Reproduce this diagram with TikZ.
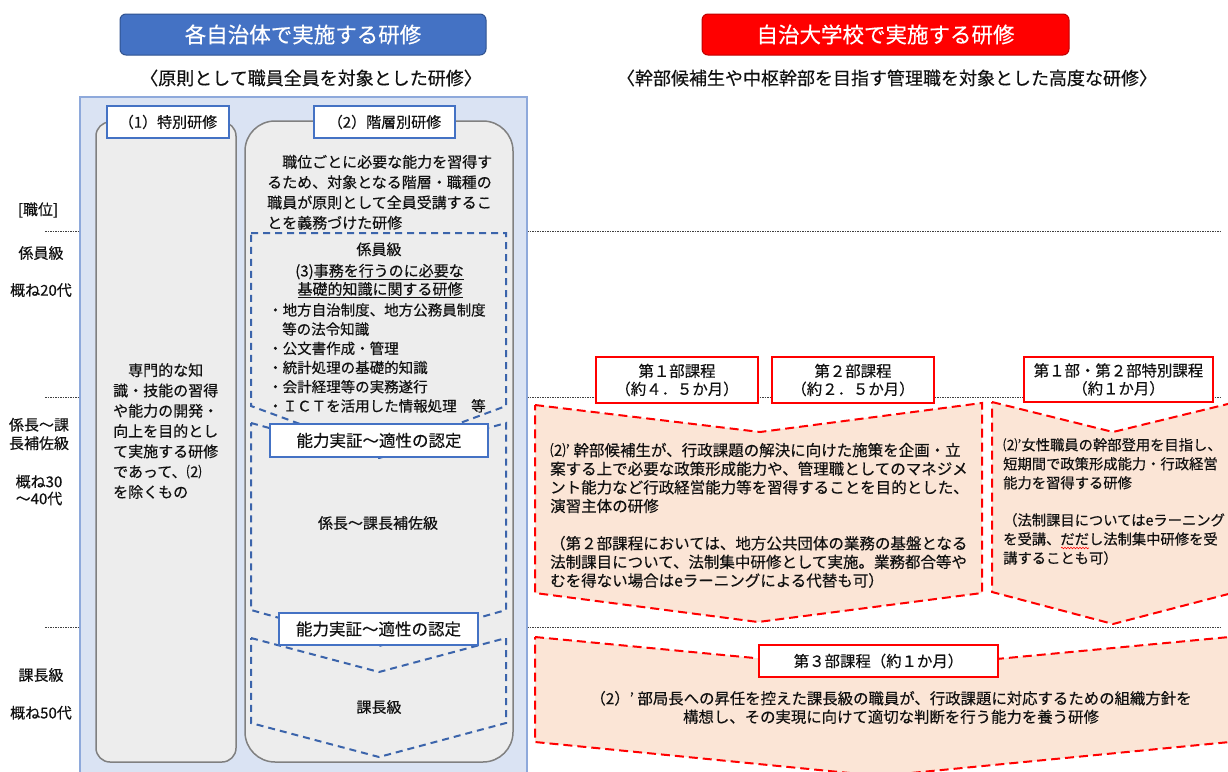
\documentclass[tikz,border=0pt]{standalone}
\usepackage{fontspec}
\setmainfont{Noto Sans CJK JP}[FakeBold=0.35]
\usetikzlibrary{decorations.pathmorphing}
\definecolor{hblue}{HTML}{4472C4}
\definecolor{hbluedk}{HTML}{2F528F}
\definecolor{hreddk}{HTML}{C00000}
\definecolor{panelfill}{HTML}{DAE3F3}
\definecolor{paneldraw}{HTML}{8EA9DB}
\definecolor{grayfill}{HTML}{EDEDED}
\definecolor{graydraw}{HTML}{808080}
\definecolor{dashblue}{HTML}{3B64AB}
\definecolor{peach}{HTML}{FBE5D6}
\definecolor{textc}{HTML}{111111}
\definecolor{dotc}{HTML}{404040}
\newcommand{\myfs}[2]{\fontsize{#1pt}{#2pt}\selectfont}
\begin{document}
\begin{tikzpicture}[x=1pt,y=-1pt,
  txt/.style={inner sep=0pt, text=textc},
  ml/.style={txt, align=left, anchor=north west},
  hdrbox/.style={rounded corners=6pt, line width=1pt, text=white, font=\myfs{21.5}{24}, inner sep=0pt, minimum width=366pt, minimum height=41pt},
  lblbox/.style={draw=hblue, fill=white, line width=2pt, inner sep=0pt, font=\myfs{15}{18}, text=textc},
  redbox/.style={draw=red, fill=white, line width=2pt, inner sep=0pt, font=\myfs{15.4}{18}, align=center, text=textc},
  graybox/.style={fill=grayfill, draw=graydraw, line width=1.5pt},
  bluedash/.style={draw=dashblue, line width=2pt, dash pattern=on 7pt off 5pt},
  reddash/.style={draw=red, fill=peach, line width=2pt, dash pattern=on 9pt off 5pt},
  dotline/.style={draw=dotc, line width=0.8pt, dash pattern=on 1.5pt off 1pt},
]
\clip (0,0) rectangle (1228,771);
\fill[white] (0,0) rectangle (1228,771);

% headers
\node[hdrbox, fill=hblue, draw=hbluedk] (hb) at (303,34.5) {各自治体で実施する研修};
\node[hdrbox, fill=red, draw=hreddk, minimum width=367pt] (hr) at (885.5,34.5) {自治大学校で実施する研修};
\node[txt, font=\myfs{18}{20}] (sub1) at (311,78) {〈原則として職員全員を対象とした研修〉};
\node[txt, font=\myfs{18}{20}] (sub2) at (887,78) {〈幹部候補生や中枢幹部を目指す管理職を対象とした高度な研修〉};

% dotted level lines
\foreach \yy in {231,397.7,627} {
  \draw[dotline] (45,\yy) -- (80,\yy);
  \draw[dotline] (527,\yy) -- (1220,\yy);
}

% left panel
\draw[fill=panelfill, draw=paneldraw, line width=1.5pt] (80,97) rectangle (527,776);
\draw[graybox, rounded corners=14pt] (96,122) rectangle (236,762);
\draw[graybox, rounded corners=30pt] (245,121) rectangle (513,762);

% dashed chevrons
\draw[bluedash] (251,233) -- (506,233) -- (506,406) -- (379,453) -- (251,406) -- cycle;
\draw[bluedash] (251,423) -- (379,458) -- (506,423) -- (506,610) -- (379,646) -- (251,610) -- cycle;
\draw[bluedash] (251,638) -- (379,672) -- (506,638) -- (506,723) -- (379,757) -- (251,723) -- cycle;

% labels
\node[lblbox, minimum width=122pt, minimum height=32pt] (lab1) at (168,122) {（1）特別研修};
\node[lblbox, minimum width=141pt, minimum height=32pt] (lab2) at (384.5,122) {（2）階層別研修};

\node[ml, font=\myfs{15}{20.3}] (p2txt) at (267,154.7) {　職位ごとに必要な能力を習得す\\るため、対象となる階層・職種の\\職員が原則として全員受講するこ\\とを義務づけた研修};

\node[txt, font=\myfs{15}{18}] (kakari) at (379,249.3) {係員級};
\node[txt, font=\myfs{15}{18}] (t3a) at (379.5,271.7) {(3)\underline{事務を行うのに必要な}};
\node[txt, font=\myfs{15}{18}] (t3b) at (380,290) {\underline{基礎的知識に関する研修}};
\node[ml, font=\myfs{14.5}{19.2}] (bul) at (268,303) {・地方自治制度、地方公務員制度\\\hspace*{14pt}等の法令知識\\・公文書作成・管理\\・統計処理の基礎的知識\\・会計経理等の実務遂行\\・ＩＣＴを活用した情報処理　等};

\node[txt, font=\myfs{15}{18}] (kacho1) at (378,523) {係長～課長補佐級};
\node[txt, font=\myfs{15}{18}] (kacho2) at (379,707) {課長級};

\node[lblbox, font=\myfs{16.5}{18}, minimum width=218pt, minimum height=33pt] (cert1) at (379,440.5) {能力実証～適性の認定};
\node[lblbox, font=\myfs{16.5}{18}, minimum width=199pt, minimum height=32pt] (cert2) at (378.5,629) {能力実証～適性の認定};

\node[ml, font=\myfs{15}{20.3}] (p1txt) at (113,363) {　専門的な知\\識・技能の習得\\や能力の開発・\\向上を目的とし\\て実施する研修\\であって、⑵\\を除くもの};

% left level labels
\node[txt, font=\myfs{15}{18}] (l0) at (38,210) {[職位]};
\node[txt, font=\myfs{15}{18}] (l1) at (41,253) {係員級};
\node[txt, font=\myfs{15}{18}] (l1b) at (41,290) {概ね20代};
\node[txt, font=\myfs{15}{18.5}, align=center] (l2) at (39,434) {係長～課\\長補佐級};
\node[txt, font=\myfs{15}{17}, align=center] (l2b) at (39,490) {概ね30\\～40代};
\node[txt, font=\myfs{15}{18}] (l3) at (41,675) {課長級};
\node[txt, font=\myfs{15}{18}] (l3b) at (41,712.7) {概ね50代};

% right side chevrons
\draw[reddash] (535,405) -- (760,432) -- (982,403) -- (982,593) -- (758,622) -- (535,593) -- cycle;
\draw[reddash] (992,402) -- (1113,432) -- (1236,402) -- (1236,592) -- (1113,624) -- (992,592) -- cycle;
\draw[reddash] (535,637) -- (880,670) -- (1240,636) -- (1240,741) -- (880,776) -- (535,742) -- cycle;

\node[redbox, minimum width=162pt, minimum height=46pt] (rb1) at (677,380) {第１部課程\\（約４．５か月）};
\node[redbox, minimum width=162pt, minimum height=46pt] (rb2) at (853,380) {第２部課程\\（約２．５か月）};
\node[redbox, minimum width=189pt, minimum height=45pt] (rb3) at (1118.5,379.5) {第１部・第２部特別課程\\（約１か月）};
\node[redbox, minimum width=239pt, minimum height=32pt] (rb4) at (878.5,661) {第３部課程（約１か月）};

\node[ml, font=\myfs{15.5}{18.6}] (r1a) at (550,442.7) {⑵' 幹部候補生が、行政課題の解決に向けた施策を企画・立\\案する上で必要な政策形成能力や、管理職としてのマネジメ\\ント能力など行政経営能力等を習得することを目的とした、\\演習主体の研修};
\node[ml, font=\myfs{15.5}{18.6}] (r1b) at (550,535.7) {（第２部課程においては、地方公共団体の業務の基盤となる\\法制課目について、法制集中研修として実施。業務都合等や\\むを得ない場合はeラーニングによる代替も可）};

\node[ml, font=\myfs{14.3}{19}] (r2a) at (1003,438) {⑵'女性職員の幹部登用を目指し、\\短期間で政策形成能力・行政経営\\能力を習得する研修};
\node[ml, font=\myfs{14.3}{19}] (r2b) at (1003,513) {（法制課目についてはeラーニング\\を受講、だだし法制集中研修を受\\講することも可）};
\draw[red, line width=0.6pt, decorate, decoration={snake, amplitude=0.8pt, segment length=3pt}] (1061,548) -- (1089,548);

\node[txt, font=\myfs{15.4}{18.5}, align=center] (r3) at (891,707.5) {（2）' 部局長への昇任を控えた課長級の職員が、行政課題に対応するための組織方針を\\構想し、その実現に向けて適切な判断を行う能力を養う研修};
\end{tikzpicture}
\end{document}
